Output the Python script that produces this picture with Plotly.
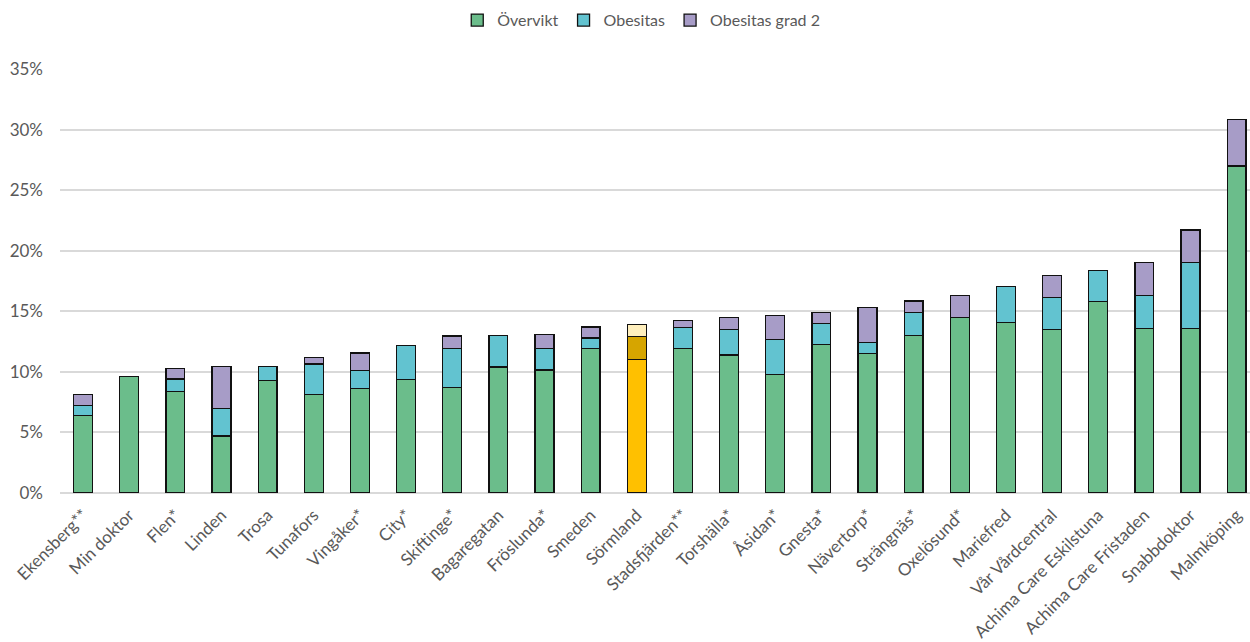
import plotly.graph_objects as go

# Vårdcentraler, sorterade efter total andel
categories = [
    "Ekensberg**", "Min doktor", "Flen*", "Linden", "Trosa", "Tunafors",
    "Vingåker*", "City*", "Skiftinge*", "Bagaregatan", "Fröslunda*", "Smeden",
    "Sörmland", "Stadsfjärden**", "Torshälla*", "Åsidan*", "Gnesta*",
    "Nävertorp*", "Strängnäs*", "Oxelösund*", "Mariefred", "Vår Vårdcentral",
    "Achima Care Eskilstuna", "Achima Care Fristaden", "Snabbdoktor", "Malmköping",
]

# Andel (%) per kategori
overvikt = [6.4, 9.6, 8.4, 4.7, 9.3, 8.15, 8.65, 9.35, 8.7, 10.4, 10.15, 11.9,
            11.0, 11.9, 11.4, 9.8, 12.25, 11.5, 13.0, 14.5, 14.1, 13.5,
            15.8, 13.6, 13.6, 27.0]
obesitas = [0.85, 0.0, 1.0, 2.3, 1.15, 2.5, 1.45, 2.8, 3.2, 2.6, 1.75, 0.9,
            1.9, 1.75, 2.1, 2.9, 1.75, 0.9, 1.9, 0.0, 2.95, 2.65,
            2.55, 2.7, 5.4, 0.0]
obesitas_grad2 = [0.9, 0.0, 0.9, 3.45, 0.0, 0.55, 1.45, 0.0, 1.05, 0.0, 1.2, 0.9,
                  1.0, 0.6, 1.0, 1.95, 0.9, 2.9, 0.95, 1.8, 0.0, 1.8,
                  0.0, 2.7, 2.7, 3.85]

y_ticks = [0, 5, 10, 15, 20, 25, 30, 35]
y_tick_labels = [f"{v}%" for v in y_ticks]

highlight = "Sörmland"

GREEN, BLUE, PURPLE = "#6BBD8B", "#62C3D0", "#A79CC7"
HL_COLORS = ["#FFC000", "#D6A500", "#FFEFBD"]

series = [
    ("Övervikt", overvikt, GREEN, HL_COLORS[0]),
    ("Obesitas", obesitas, BLUE, HL_COLORS[1]),
    ("Obesitas grad 2", obesitas_grad2, PURPLE, HL_COLORS[2]),
]

FONT = "Lato"
TEXT = "#595959"

fig = go.Figure()
for name, vals, col, hl in series:
    colors = [hl if c == highlight else col for c in categories]
    fig.add_trace(go.Bar(
        name=name,
        x=categories,
        y=vals,
        width=0.41,
        marker=dict(color=colors, line=dict(color="#111111", width=1.3)),
    ))

fig.update_layout(
    barmode="stack",
    width=1250,
    height=642,
    margin=dict(l=60, r=0, t=69, b=149),
    paper_bgcolor="white",
    plot_bgcolor="white",
    font=dict(family=FONT, size=17, color=TEXT),
    legend=dict(
        orientation="h",
        xref="container",
        x=0.513, xanchor="center",
        yref="container",
        y=0.995, yanchor="top",
        font=dict(family=FONT, size=16, color=TEXT),
        itemwidth=30,
        traceorder="normal",
    ),
    xaxis=dict(
        type="category",
        range=[-0.5, 25.29],
        tickangle=-45,
        showgrid=False,
        showline=False,
        ticks="",
        ticklabelstandoff=8,
        tickfont=dict(family=FONT, size=17, color=TEXT),
    ),
    yaxis=dict(
        range=[0, 35],
        tickvals=y_ticks,
        ticktext=y_tick_labels,
        showgrid=True,
        gridcolor="#D9D9D9",
        gridwidth=1.5,
        zeroline=True,
        zerolinecolor="#D9D9D9",
        zerolinewidth=2,
        showline=False,
        ticks="",
        ticklabelstandoff=16,
        tickfont=dict(family=FONT, size=17, color=TEXT),
    ),
)

fig.write_html("out.html")
